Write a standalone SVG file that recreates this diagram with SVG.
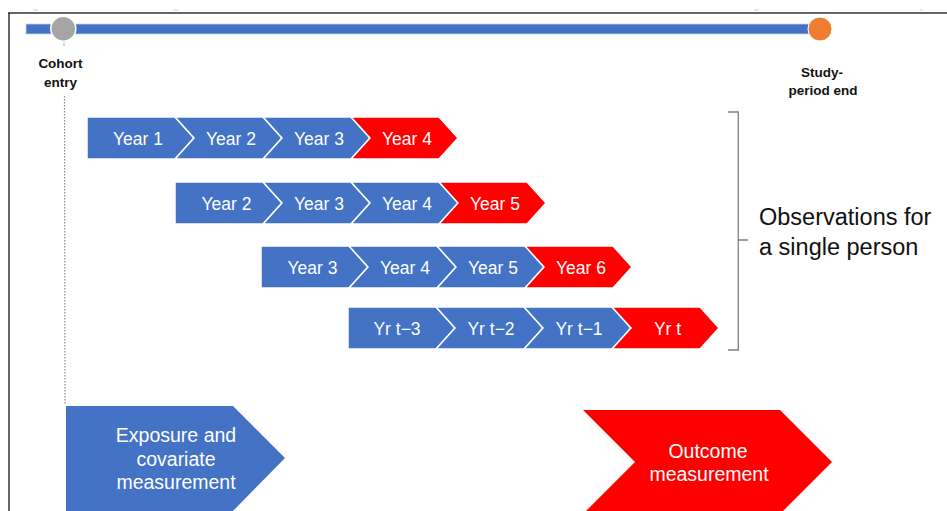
<svg xmlns="http://www.w3.org/2000/svg" width="947" height="511" viewBox="0 0 947 511">
<style>
.blue{fill:#4472C4;stroke:#fff;stroke-width:1.5;stroke-linejoin:miter}
.red{fill:#FF0000;stroke:#fff;stroke-width:1.5;stroke-linejoin:miter}
.lbl{font-family:"Liberation Sans",Arial,sans-serif;font-size:17.5px;fill:#fff;text-anchor:middle}
.big{font-family:"Liberation Sans",Arial,sans-serif;font-size:19.5px;fill:#fff;text-anchor:middle}
.bold{font-family:"Liberation Sans",Arial,sans-serif;font-size:13.5px;font-weight:bold;fill:#111;text-anchor:middle}
.obs{font-family:"Liberation Sans",Arial,sans-serif;font-size:23.5px;fill:#111}
.br{fill:none;stroke:#7F7F7F;stroke-width:1.3}
.dot{stroke:#8C8C8C;stroke-width:1.2;stroke-dasharray:1.5 1.5;fill:none}
</style>
<rect width="947" height="511" fill="#fff"/>
<g id="frame">
<line x1="8" y1="13" x2="947" y2="13" stroke="#333" stroke-width="1.5"/>
<line x1="9" y1="13" x2="9" y2="511" stroke="#333" stroke-width="1.5"/>
<g stroke="#ccc" stroke-width="1">
<line x1="33" y1="10" x2="38" y2="10"/><line x1="173" y1="10" x2="178" y2="10"/><line x1="754" y1="10" x2="759" y2="10"/><line x1="920" y1="10" x2="923" y2="10"/>
</g>
</g>
<g id="timeline">
<rect x="26" y="24" width="784" height="10" fill="#4472C4" stroke="#c9d5ee" stroke-width="0.8"/>
</g>
<g id="connectors">
<line class="dot" x1="64" y1="41" x2="64" y2="47"/>
<line class="dot" x1="64.5" y1="96" x2="65" y2="405"/>
</g>
<g id="cohort-entry">
<circle cx="63.3" cy="28.7" r="12.5" fill="#A5A5A5" stroke="#fff" stroke-width="1.5"/>
<text class="bold" x="60.5" y="68">Cohort</text>
<text class="bold" x="60.5" y="87">entry</text>
</g>
<g id="study-end">
<circle cx="820" cy="29" r="12" fill="#ED7D31" stroke="#fff" stroke-width="1"/>
<text class="bold" x="822" y="77">Study-</text>
<text class="bold" x="823" y="94.5">period end</text>
</g>
<g id="row1">
<path class="blue" d="M87,117H175L194,138L175,159H87Z"/>
<path class="blue" d="M175,117H263L282,138L263,159H175L194,138Z"/>
<path class="blue" d="M263,117H351L370,138L351,159H263L282,138Z"/>
<path class="red" d="M351,117H439L458,138L439,159H351L370,138Z"/>
<text class="lbl" x="138" y="145">Year 1</text>
<text class="lbl" x="231" y="145">Year 2</text>
<text class="lbl" x="319" y="145">Year 3</text>
<text class="lbl" x="407" y="145">Year 4</text>
</g>
<g id="row2">
<path class="blue" d="M175,182H263L282,203L263,224H175Z"/>
<path class="blue" d="M263,182H351L370,203L351,224H263L282,203Z"/>
<path class="blue" d="M351,182H439L458,203L439,224H351L370,203Z"/>
<path class="red" d="M439,182H527L546,203L527,224H439L458,203Z"/>
<text class="lbl" x="226.5" y="210">Year 2</text>
<text class="lbl" x="319" y="210">Year 3</text>
<text class="lbl" x="407" y="210">Year 4</text>
<text class="lbl" x="495" y="210">Year 5</text>
</g>
<g id="row3">
<path class="blue" d="M261,246H349L368,267L349,288H261Z"/>
<path class="blue" d="M349,246H437L456,267L437,288H349L368,267Z"/>
<path class="blue" d="M437,246H525L544,267L525,288H437L456,267Z"/>
<path class="red" d="M525,246H613L632,267L613,288H525L544,267Z"/>
<text class="lbl" x="312.5" y="274">Year 3</text>
<text class="lbl" x="405" y="274">Year 4</text>
<text class="lbl" x="493" y="274">Year 5</text>
<text class="lbl" x="581" y="274">Year 6</text>
</g>
<g id="row4">
<path class="blue" d="M348,307H436L455,328L436,349H348Z"/>
<path class="blue" d="M436,307H524L543,328L524,349H436L455,328Z"/>
<path class="blue" d="M524,307H612L631,328L612,349H524L543,328Z"/>
<path class="red" d="M612,307H700L719,328L700,349H612L631,328Z"/>
<text class="lbl" x="397" y="335">Yr t−3</text>
<text class="lbl" x="491" y="335">Yr t−2</text>
<text class="lbl" x="579" y="335">Yr t−1</text>
<text class="lbl" x="667.5" y="335">Yr t</text>
</g>
<g id="observations">
<path class="br" d="M728,112H738.3V350H728M738.3,240H748"/>
<text class="obs" x="759" y="224.5">Observations for</text>
<text class="obs" x="759" y="254.5">a single person</text>
</g>
<g id="exposure">
<path fill="#4472C4" d="M66,406H233L285,458L233,511H66Z"/>
<text class="big" x="176" y="442">Exposure and</text>
<text class="big" x="176" y="466">covariate</text>
<text class="big" x="176" y="489">measurement</text>
</g>
<g id="outcome">
<path fill="#FF0000" d="M583,410H780L832,462L780,514H583L635,462Z"/>
<text class="big" x="708" y="458">Outcome</text>
<text class="big" x="709" y="481">measurement</text>
</g>
</svg>
